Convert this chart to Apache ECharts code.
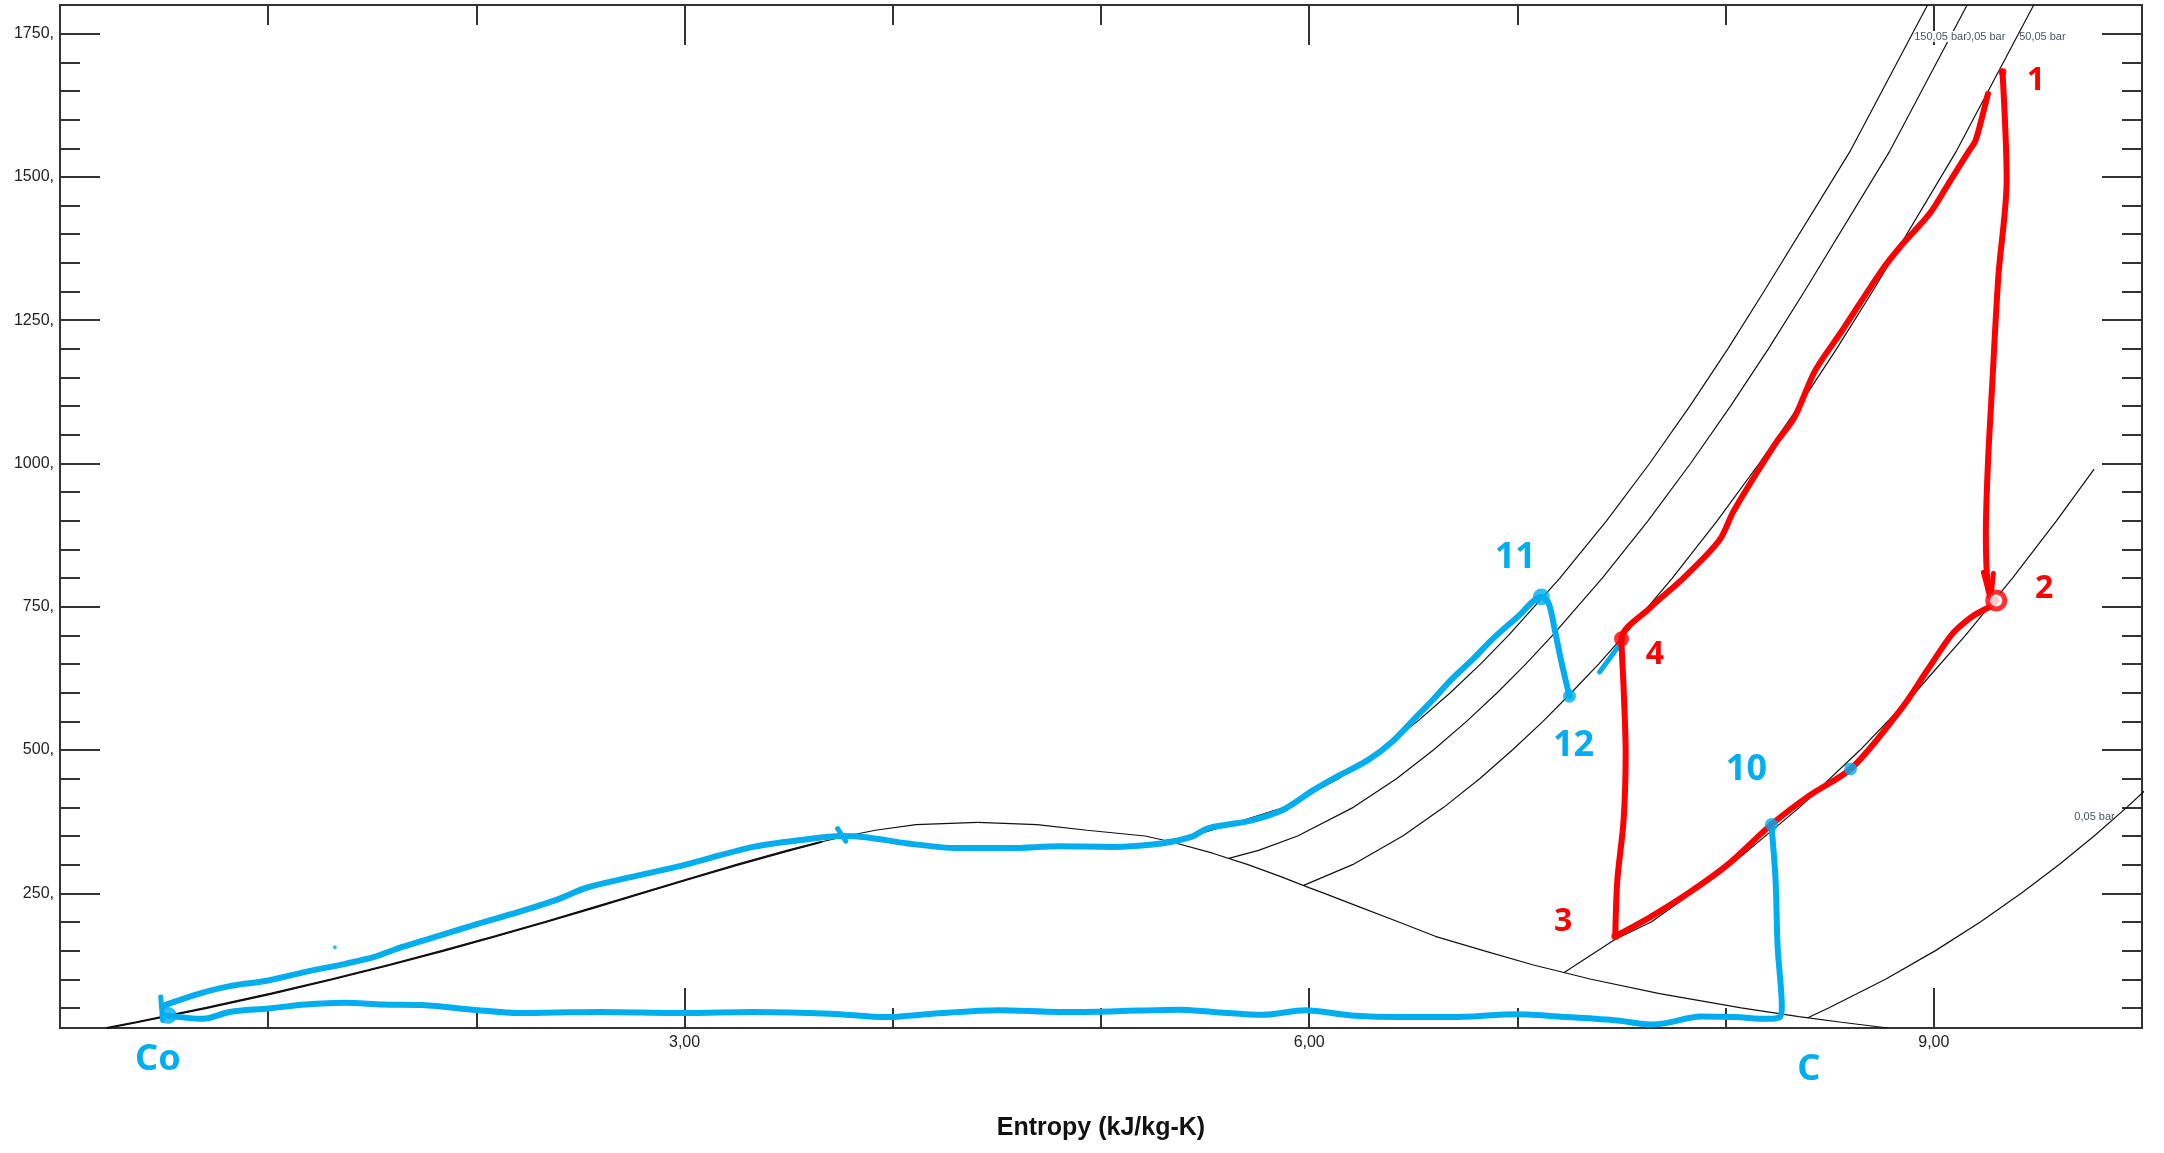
<!DOCTYPE html>
<html>
<head>
<meta charset="utf-8">
<script src="https://cdn.jsdelivr.net/npm/echarts@6/dist/echarts.min.js"></script>
<style>
html,body{margin:0;padding:0;background:#fff;}
#c{width:2164px;height:1153px;}
</style>
</head>
<body>
<div id="c"></div>
<script>
// ---------- axis ticks ----------
const xMajorTicks = [3, 6, 9];
const yLabelValues = [250, 500, 750, 1000, 1250, 1500, 1750];
const yMinorValues = [50,100,150,200,250,300,350,400,450,500,550,600,650,700,750,800,850,900,950,1000,1050,1100,1150,1200,1250,1300,1350,1400,1450,1500,1550,1600,1650,1700,1750];

// ---------- saturation dome [s, T] ----------
const satLiquid = [[0.2245,15],[0.3672,25],[0.7038,50],[1.0157,75],[1.3072,100],[1.5813,125],[1.8418,150],[2.0909,175],[2.3309,200],[2.5639,225],[2.7927,250],[3.0208,275],[3.2548,300],[3.5008,325],[3.6601,340],[3.7786,350],[3.9164,360],[4.1108,370],[4.407,373.95]];
const satVapor = [[4.407,373.95],[4.6927,370],[4.9330,360],[5.2117,350],[5.3357,340],[5.5362,320],[5.7059,300],[5.8571,280],[5.9989,260],[6.0730,250],[6.2500,225],[6.4302,200],[6.6055,175],[6.8371,150],[7.0770,125],[7.3542,100],[7.6830,75],[8.0748,50],[8.3517,35],[8.5567,25],[8.7803,15]];
const liquidThick = [[0.2245,15],[0.3672,25],[0.7038,50],[1.0157,75],[1.3072,100],[1.5813,125],[1.8418,150],[2.0909,175],[2.3309,200],[2.5639,225],[2.7927,250],[3.0208,275],[3.2548,300],[3.5008,325],[3.6601,340]];

// ---------- isobars [s, T] ----------
const isobar150 = [[5.3098,342.24],[5.4421,350],[5.8811,400],[6.1404,450],[6.3443,500],[6.5199,550],[6.6776,600],[6.8224,650],[6.9572,700],[7.2040,800],[7.4279,900],[7.6348,1000],[7.8283,1100],[8.0108,1200],[8.1840,1300],[8.60,1546],[8.97,1800]];
const isobar100 = [[5.6141,311.06],[5.7568,325],[5.9443,350],[6.2120,400],[6.4190,450],[6.5966,500],[6.7561,550],[6.9029,600],[7.0398,650],[7.1687,700],[7.4077,800],[7.6272,900],[7.8315,1000],[8.0237,1100],[8.2055,1200],[8.3783,1300],[8.79,1546],[9.16,1800]];
const isobar50 = [[5.9734,263.94],[6.2084,300],[6.4493,350],[6.6459,400],[6.8186,450],[6.9759,500],[7.1229,550],[7.2589,600],[7.3901,650],[7.5122,700],[7.7440,800],[7.9593,900],[8.1612,1000],[8.3520,1100],[8.5331,1200],[8.7055,1300],[9.11,1546],[9.48,1800]];
const isobarLow = [[7.223,111.4],[7.47,170],[7.643,200],[8.027,300],[8.355,400],[8.646,500],[8.910,600],[9.152,700],[9.378,800],[9.589,900],[9.77,990]];
const isobar005 = [[8.3951,32.88],[8.4946,50],[8.768,100],[9.008,150],[9.2235,200],[9.420,250],[9.601,300],[9.770,350],[9.927,400],[10.075,450]];

// ---------- hand-drawn annotations [s, T] ----------
const blueUpperPath = [[0.49,52],[0.52,57],[0.67,75],[0.815,88],[1.0,98],[1.18,113],[1.37,127],[1.51,139],[1.64,156],[1.83,177],[2.01,197],[2.20,217],[2.38,238],[2.54,261],[2.96,296],[3.33,331],[3.58,344],[3.75,350],[3.87,348],[4.07,337],[4.31,329],[4.56,329],[4.80,332],[5.05,331],[5.29,337],[5.43,348],[5.51,363],[5.61,370],[5.72,377],[5.87,395],[6.02,430],[6.12,451],[6.28,482],[6.40,515],[6.52,560],[6.60,590],[6.68,622],[6.79,660],[6.89,697],[7.0,732],[7.115,767],[7.15,756],[7.18,709],[7.21,656],[7.25,594]];
const blueLowerPath = [[8.22,370],[8.24,273],[8.25,156],[8.27,52],[8.26,34],[8.205,31],[8.04,34],[7.88,35],[7.72,24],[7.64,21],[7.48,28],[7.24,34],[7.0,39],[6.68,34],[6.44,34],[6.20,37],[5.98,46],[5.78,38],[5.54,43],[5.37,47],[5.05,44],[4.80,43],[4.51,46],[4.19,40],[3.97,34],[3.70,40],[3.33,43],[3.0,41],[2.60,43],[2.38,42],[2.20,41],[2.01,46],[1.74,55],[1.55,56],[1.37,59],[1.18,56],[1.0,49],[0.815,43],[0.687,31],[0.50,37]];
const redCycle = [[9.33,1683],[9.35,1495],[9.31,1326],[9.28,1134],[9.26,1000],[9.25,877],[9.26,784],[9.28,765],[9.30,761],[9.18,732],[9.09,703],[8.97,640],[8.85,575],[8.61,470],[8.40,420],[8.22,370],[8.01,300],[7.82,250],[7.64,209],[7.47,175],[7.48,273],[7.51,377],[7.52,494],[7.51,610],[7.50,694],[7.64,749],[7.80,801],[7.97,866],[8.04,918],[8.24,1035],[8.33,1080],[8.43,1162],[8.56,1232],[8.75,1337],[8.85,1383],[8.98,1436],[9.07,1488],[9.17,1546],[9.20,1563],[9.24,1616],[9.26,1645]];
const blueStrokes = [[[0.493,28],[0.484,69]],[[3.735,363],[3.774,341]],[[7.395,636],[7.484,680]]];
const redStrokes = [[[9.238,810],[9.27,767]],[[9.286,808],[9.275,767]]];
const blueBigDots = [[0.52,37],[7.115,767]];
const blueSmallDots = [[7.25,594],[8.22,370],[8.60,467]];
const blueTinyDots = [[1.32,156]];
const redBigDots = [[7.50,694]];
const redRings = [[9.30,761]];
const redSmallDots = [[9.33,1683],[7.47,175]];

// ---------- texts ----------
const isobarLabels = [
  {text:'100,05 bar', s:9.091, T:1745},
  {text:'150,05 bar', s:8.906, T:1745},
  {text:'50,05 bar',  s:9.41,  T:1745},
  {text:'0,05 bar',   s:9.675, T:383}
];
const blueLabels = [
  {text:'Co', s:0.47, T:-41},
  {text:'C',  s:8.40,  T:-58},
  {text:'11', s:6.99,  T:835},
  {text:'12', s:7.27,  T:508},
  {text:'10', s:8.10,  T:466}
];
const redLabels = [
  {text:'1', s:9.49, T:1668},
  {text:'2', s:9.53, T:781},
  {text:'3', s:7.22, T:200},
  {text:'4', s:7.66, T:666}
];

const BLUE = '#00AEEF';
const RED = '#FF0000';
const AXIS = '#333333';

const chart = echarts.init(document.getElementById('c'), null, {renderer:'canvas'});

function blackLine(data, w) {
  return {type:'line', data:data, xAxisIndex:0, yAxisIndex:0, symbol:'none', smooth:false, silent:true,
    lineStyle:{color:'#111', width:w}, z:2, animation:false};
}
function handLine(data, color, w, z) {
  return {type:'line', data:data, xAxisIndex:0, yAxisIndex:0, symbol:'none', smooth:0.3, silent:true,
    lineStyle:{color:color, width:w, cap:'round', join:'round'}, z:z, animation:false};
}
function dots(data, color, size, z, ring) {
  return {type:'scatter', data:data, xAxisIndex:0, yAxisIndex:0, symbol:'circle', symbolSize:size, silent:true,
    itemStyle: ring ? {color:'#ffffff', borderColor:color, borderWidth:5} : {color:color},
    z:z, animation:false};
}

const series = [
  blackLine(satLiquid, 1.2),
  blackLine(satVapor, 1.2),
  blackLine(liquidThick, 2.2),
  blackLine(isobar150, 1.2),
  blackLine(isobar100, 1.2),
  blackLine(isobar50, 1.2),
  blackLine(isobarLow, 1.2),
  blackLine(isobar005, 1.2),
  handLine(blueUpperPath, BLUE, 6, 5),
  handLine(blueLowerPath, BLUE, 6, 5),
  handLine(redCycle, RED, 6, 6)
];
blueStrokes.forEach(s => series.push(handLine(s, BLUE, 5, 5)));
redStrokes.forEach(s => series.push(handLine(s, RED, 5, 6)));
series.push(dots(blueBigDots, BLUE, 17, 8, false));
series.push(dots(blueSmallDots, BLUE, 13, 8, false));
series.push(dots(blueTinyDots, BLUE, 4, 8, false));
series.push(dots(redBigDots, RED, 15, 7, false));
series.push(dots(redRings, RED, 17, 7, true));
series.push(dots(redSmallDots, RED, 8, 7, false));

const tickStyle = {color:AXIS, width:2};
const labelFont = {fontFamily:'"Liberation Sans", Arial, sans-serif', fontSize:16, color:'#222'};

const option = {
  backgroundColor:'#ffffff',
  animation:false,
  grid:{left:60, right:22, top:5, bottom:125, containLabel:false},
  xAxis:[
    {type:'value', position:'bottom', min:0, max:10, interval:1,
     axisLine:{show:true, onZero:false, lineStyle:{color:AXIS, width:2}},
     axisTick:{show:true, inside:true, length:20, lineStyle:tickStyle},
     axisLabel:Object.assign({show:true, margin:7,
       formatter:function(v){ return xMajorTicks.indexOf(v) >= 0 ? v.toFixed(2).replace('.', ',') : ''; }}, labelFont),
     splitLine:{show:false},
     name:'Entropy (kJ/kg-K)', nameLocation:'middle', nameGap:88,
     nameTextStyle:{fontFamily:'"Liberation Sans", Arial, sans-serif', fontSize:25, fontWeight:'bold', color:'#111'}},
    {type:'value', position:'bottom', min:0, max:10, interval:3,
     axisLine:{show:false, onZero:false}, axisTick:{show:true, inside:true, length:40, lineStyle:tickStyle},
     axisLabel:{show:false}, splitLine:{show:false}},
    {type:'value', position:'top', min:0, max:10, interval:1,
     axisLine:{show:true, onZero:false, lineStyle:{color:AXIS, width:2}},
     axisTick:{show:true, inside:true, length:20, lineStyle:tickStyle},
     axisLabel:{show:false}, splitLine:{show:false}},
    {type:'value', position:'top', min:0, max:10, interval:3,
     axisLine:{show:false, onZero:false}, axisTick:{show:true, inside:true, length:40, lineStyle:tickStyle},
     axisLabel:{show:false}, splitLine:{show:false}}
  ],
  yAxis:[
    {type:'value', position:'left', min:15, max:1800,
     axisLine:{show:true, onZero:false, lineStyle:{color:AXIS, width:2}},
     axisTick:{show:true, inside:true, length:20, lineStyle:tickStyle, customValues:yMinorValues},
     axisLabel:Object.assign({show:true, margin:6, customValues:yLabelValues,
       formatter:function(v){ return v + ','; }}, labelFont),
     splitLine:{show:false}},
    {type:'value', position:'left', min:15, max:1800,
     axisLine:{show:false, onZero:false},
     axisTick:{show:true, inside:true, length:40, lineStyle:tickStyle, customValues:yLabelValues},
     axisLabel:{show:false, customValues:yLabelValues}, splitLine:{show:false}},
    {type:'value', position:'right', min:15, max:1800,
     axisLine:{show:true, onZero:false, lineStyle:{color:AXIS, width:2}},
     axisTick:{show:true, inside:true, length:20, lineStyle:tickStyle, customValues:yMinorValues},
     axisLabel:{show:false, customValues:yLabelValues}, splitLine:{show:false}},
    {type:'value', position:'right', min:15, max:1800,
     axisLine:{show:false, onZero:false},
     axisTick:{show:true, inside:true, length:40, lineStyle:tickStyle, customValues:yLabelValues},
     axisLabel:{show:false, customValues:yLabelValues}, splitLine:{show:false}}
  ],
  series:series
};
chart.setOption(option);

// ---------- texts placed through the axes ----------
function px(s, T) { return chart.convertToPixel({xAxisIndex:0, yAxisIndex:0}, [s, T]); }
const graphics = [];
isobarLabels.forEach(function(l, i){
  const p = px(l.s, l.T);
  graphics.push({type:'text', x:p[0], y:p[1], z:20 + i, silent:true,
    style:{text:l.text, fill:'#4a5560', font:'11px "Liberation Sans", Arial, sans-serif',
      textAlign:'left', textVerticalAlign:'middle',
      backgroundColor: l.text.indexOf('150') === 0 ? '#ffffff' : null}});
});
blueLabels.forEach(function(l){
  const p = px(l.s, l.T);
  graphics.push({type:'text', x:p[0], y:p[1], z:30, silent:true,
    style:{text:l.text, fill:BLUE, font:'bold 36px "Noto Sans", sans-serif', textAlign:'center', textVerticalAlign:'middle'}});
});
redLabels.forEach(function(l){
  const p = px(l.s, l.T);
  graphics.push({type:'text', x:p[0], y:p[1], z:30, silent:true,
    style:{text:l.text, fill:RED, font:'bold 32px "Noto Sans", sans-serif', textAlign:'center', textVerticalAlign:'middle'}});
});
chart.setOption({graphic:graphics});
</script>
</body>
</html>
